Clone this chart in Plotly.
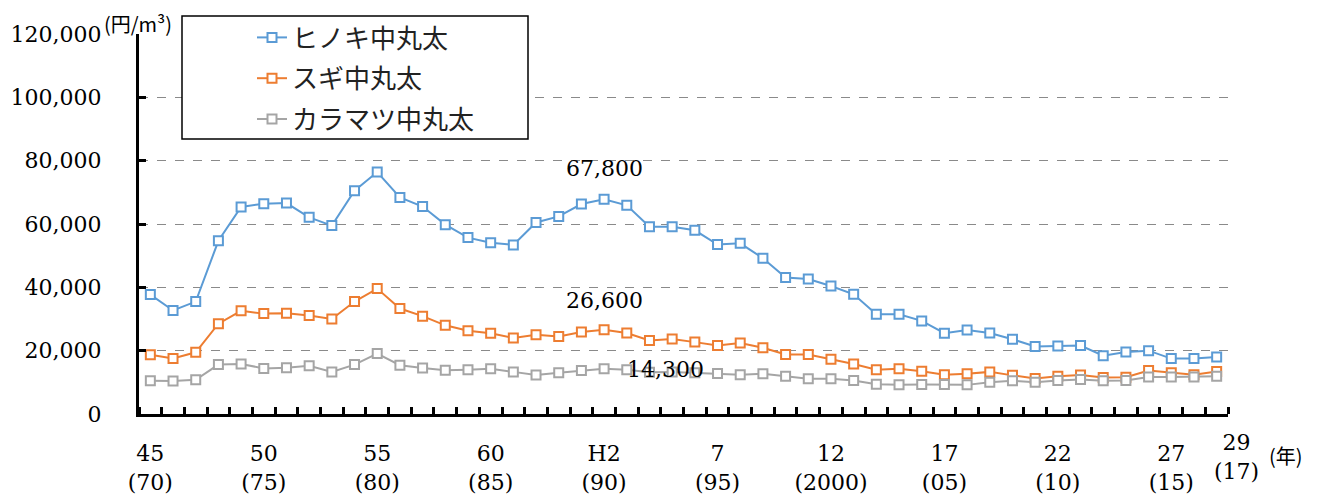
import plotly.graph_objects as go

# Fiscal years: Showa 45 (1970) through Heisei 29 (2017)
years = list(range(1970, 2018))

# Average price of medium logs, yen per cubic metre
hinoki = [37700, 32700, 35500, 54700, 65400, 66400, 66600, 62100, 59500, 70500,
          76400, 68400, 65500, 59800, 55700, 54100, 53400, 60500, 62400, 66300,
          67800, 65900, 59100, 59100, 58000, 53500, 53900, 49200, 43100, 42600,
          40400, 37800, 31500, 31500, 29400, 25500, 26500, 25600, 23600, 21300,
          21500, 21600, 18400, 19600, 20000, 17500, 17500, 18000]
sugi = [18700, 17500, 19500, 28500, 32600, 31700, 31800, 31100, 30000, 35500,
        39600, 33300, 30900, 28000, 26300, 25500, 24000, 25000, 24500, 25900,
        26600, 25600, 23200, 23700, 22700, 21600, 22400, 20900, 18800, 18800,
        17300, 15800, 14000, 14300, 13500, 12400, 12700, 13300, 12200, 11200,
        11900, 12300, 11500, 11600, 13700, 13000, 12400, 13400]
karamatsu = [10500, 10400, 10800, 15600, 15800, 14400, 14600, 15200, 13300, 15600,
             19100, 15400, 14500, 13800, 14000, 14300, 13300, 12300, 13000, 13700,
             14300, 14000, 13200, 13300, 13000, 12800, 12400, 12700, 11900, 11100,
             11100, 10600, 9400, 9200, 9300, 9300, 9200, 10000, 10500, 10000,
             10600, 10900, 10500, 10600, 11700, 11700, 11700, 11900]

series_names = ["ヒノキ中丸太", "スギ中丸太", "カラマツ中丸太"]
series_colors = ["#5B9BD5", "#ED7D31", "#A5A5A5"]

# Axis labels every five years: Japanese era year over Western year
tick_years = [1970, 1975, 1980, 1985, 1990, 1995, 2000, 2005, 2010, 2015]
tick_text = ["45<br>(70)", "50<br>(75)", "55<br>(80)", "60<br>(85)", "H2<br>(90)",
             "7<br>(95)", "12<br>(2000)", "17<br>(05)", "22<br>(10)", "27<br>(15)"]
last_label = "29<br>(17)"

highlight_year = 1990

SERIF = "DejaVu Serif, Liberation Serif, serif"
CJK = "Noto Sans CJK JP, sans-serif"

# Plot-area geometry in pixels
L, R, T, B = 139, 94, 34, 82
W, H = 1322, 496
PW, PH = W - L - R, H - T - B


def px_x(px):
    return (px - L) / PW


def px_y(py):
    return (H - B - py) / PH


idx = list(range(len(years)))

fig = go.Figure()
for i, (name, vals, col) in enumerate(zip(series_names, [hinoki, sugi, karamatsu], series_colors)):
    fig.add_trace(go.Scatter(
        x=idx, y=vals, name=name, mode="lines+markers",
        legendgroup=f"g{i}",
        line=dict(color=col, width=2),
        marker=dict(symbol="square", size=9, color="white",
                    line=dict(color=col, width=2)),
    ))

tick_pos = [years.index(y) for y in tick_years]

fig.update_layout(
    width=W, height=H,
    margin=dict(l=L, r=R, t=T, b=B),
    paper_bgcolor="white", plot_bgcolor="white",
    showlegend=True,
    legend=dict(
        x=px_x(252), y=px_y(14), xanchor="left", yanchor="top",
        bgcolor="rgba(0,0,0,0)", borderwidth=0,
        font=dict(family=CJK, size=26, color="#222"),
        tracegroupgap=4,
    ),
    xaxis=dict(
        range=[-0.5, len(years) - 0.5], automargin=False,
        tickmode="array", tickvals=tick_pos, ticktext=tick_text,
        ticks="", showgrid=False, zeroline=False,
        showline=True, linecolor="black", linewidth=3,
        tickfont=dict(family=SERIF, size=22, color="black"),
        ticklabelstandoff=18,
        minor=dict(
            tickmode="array",
            tickvals=[k + 0.5 for k in range(-1, len(years))],
            ticks="inside", ticklen=7, tickwidth=3, tickcolor="black",
            showgrid=False,
        ),
    ),
    yaxis=dict(
        range=[0, 120000], tickmode="array", automargin=False,
        tickvals=[0, 20000, 40000, 60000, 80000, 100000, 120000],
        ticktext=["0", "20,000", "40,000", "60,000", "80,000", "100,000", "120,000"],
        ticks="inside", ticklen=7, tickwidth=3, tickcolor="black",
        showline=True, linecolor="black", linewidth=3,
        showgrid=True, gridcolor="#8a8a8a", gridwidth=1, griddash="dash",
        zeroline=False,
        tickfont=dict(family=SERIF, size=22, color="black"),
        ticklabelstandoff=30,
    ),
)

# Legend frame
fig.add_shape(type="rect", xref="paper", yref="paper",
              x0=px_x(182), x1=px_x(528), y0=px_y(139), y1=px_y(16),
              line=dict(color="black", width=1.5), fillcolor="white", layer="above")

# Value labels for the highlighted year
hi = years.index(highlight_year)
for vals, xs, ys in [(hinoki, 0, 31), (sugi, 0, 29), (karamatsu, 61, -1)]:
    fig.add_annotation(x=hi, y=vals[hi], xref="x", yref="y", text=f"{vals[hi]:,}",
                       showarrow=False, xshift=xs, yshift=ys,
                       font=dict(family=SERIF, size=22, color="black"))

# Unit label, final year label and year unit
fig.add_annotation(xref="paper", yref="paper", x=px_x(138), y=px_y(24),
                   text="(円/m³)", showarrow=False, xanchor="center", yanchor="middle",
                   font=dict(family=CJK, size=20, color="black"))
fig.add_annotation(xref="x", yref="paper", x=len(years) - 1, y=px_y(457),
                   xshift=20, text=last_label, showarrow=False,
                   xanchor="center", yanchor="middle",
                   font=dict(family=SERIF, size=22, color="black"))
fig.add_annotation(xref="x", yref="paper", x=len(years) - 1, y=px_y(455),
                   xshift=69, text="(年)", showarrow=False,
                   xanchor="center", yanchor="middle",
                   font=dict(family=CJK, size=20, color="black"))

fig.write_html("out.html")
